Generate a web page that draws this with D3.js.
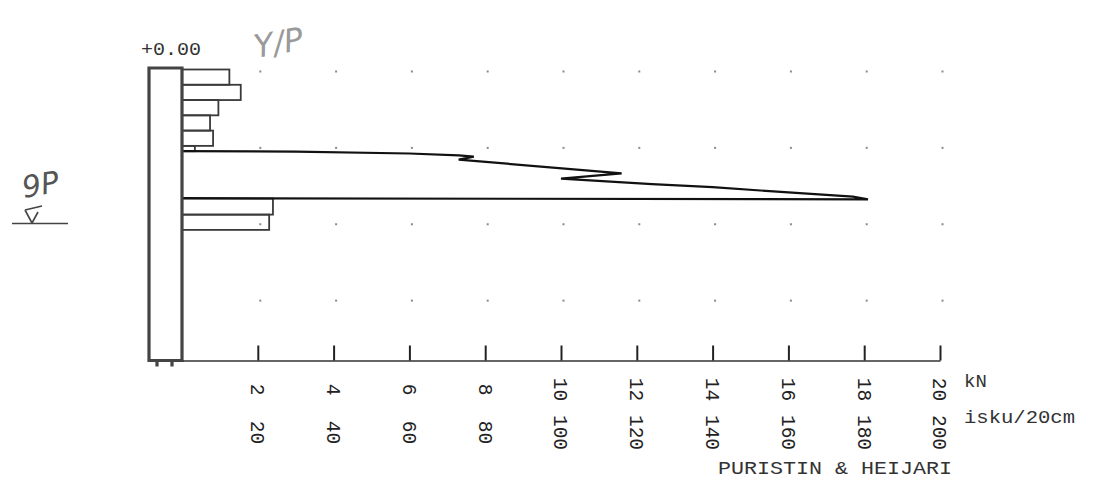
<!DOCTYPE html>
<html>
<head>
<meta charset="utf-8">
<script src="https://cdn.jsdelivr.net/npm/d3@7"></script>
<style>
  html, body { margin: 0; padding: 0; background: #fff; }
  svg { display: block; }
</style>
</head>
<body>
<svg id="chart" width="1096" height="495"></svg>
<script>
// ---------- data ----------
const kNTicks = [2, 4, 6, 8, 10, 12, 14, 16, 18, 20];
const iskuTicks = [20, 40, 60, 80, 100, 120, 140, 160, 180, 200];
const gridDepths = [0, 1, 2, 3];
const gridValues = [2, 4, 6, 8, 10, 12, 14, 16, 18, 20];

// puristin bars (kN) by depth interval (m)
const barTop    = [0.00, 0.20, 0.40, 0.60, 0.80, 1.00, 1.69, 1.90];
const barBottom = [0.20, 0.40, 0.60, 0.80, 1.00, 1.07, 1.90, 2.10];
const barKN     = [1.25, 1.55, 0.96, 0.74, 0.82, 0.34, 2.40, 2.30];

// heijari curve (isku/20cm) by depth (m)
const lineDepth = [1.07, 1.075, 1.10, 1.125, 1.14, 1.18, 1.36, 1.43, 1.50, 1.54, 1.61, 1.665, 1.70, 1.685];
const lineIsku  = [0,    30,    60,   73,    77,   73,   116,  100,  124,  140,  160,  177,   181,  0];

const levelLabel = "+0.00";
const unitKN = "kN";
const unitIsku = "isku/20cm";
const footer = "PURISTIN & HEIJARI";

// ---------- scales ----------
const svg = d3.select("#chart");
const x = d3.scaleLinear().domain([0, 20]).range([182, 940]);
const xi = d3.scaleLinear().domain([0, 200]).range([182, 940]);
const y = d3.scaleLinear().domain([0, 3.81]).range([69.5, 360.5]);
const axisY = y(3.81);
const mono = "'Liberation Mono', 'DejaVu Sans Mono', monospace";

// grid dots
const dots = [];
gridDepths.forEach(d => gridValues.forEach(v => dots.push({d, v})));
svg.append("g").selectAll("rect").data(dots).join("rect")
  .attr("x", p => x(p.v) + 1.5).attr("y", p => y(p.d) + 1)
  .attr("width", 2).attr("height", 2)
  .attr("fill", "#8a8a8a");

// bars
const bars = barKN.map((v, i) => ({v, t: barTop[i], b: barBottom[i]}));
svg.append("g").selectAll("rect").data(bars).join("rect")
  .attr("x", x(0)).attr("y", d => y(d.t))
  .attr("width", d => x(d.v) - x(0))
  .attr("height", d => y(d.b) - y(d.t))
  .attr("fill", "none").attr("stroke", "#3a3a3a").attr("stroke-width", 1.8);

// heijari polygon line
const pts = lineDepth.map((d, i) => [xi(lineIsku[i]), y(d)]);
svg.append("path")
  .attr("d", d3.line()(pts))
  .attr("fill", "none").attr("stroke", "#111").attr("stroke-width", 2.2)
  .attr("stroke-linejoin", "miter");

// column (rod frame)
const colL = x(0) - 33, colR = x(0);
svg.append("path")
  .attr("d", `M${colL},${axisY} L${colL},${y(0) - 1.5} L${colR},${y(0) - 1.5} L${colR},${axisY} Z`)
  .attr("fill", "none").attr("stroke", "#444").attr("stroke-width", 3.2);
svg.append("g").selectAll("line").data([colL + 8, colL + 23]).join("line")
  .attr("x1", d => d).attr("x2", d => d)
  .attr("y1", axisY).attr("y2", axisY + 6)
  .attr("stroke", "#444").attr("stroke-width", 3.2);

// kN axis (ticks upward)
const gAx = svg.append("g").attr("transform", `translate(0,${axisY})`)
  .call(d3.axisBottom(x).tickValues(kNTicks).tickSize(-15).tickSizeOuter(0).tickFormat(d3.format("d")));
gAx.select(".domain").attr("stroke", "#333").attr("stroke-width", 1.6);
gAx.selectAll(".tick line").attr("stroke", "#222").attr("stroke-width", 2);
gAx.selectAll(".tick text")
  .attr("x", 0).attr("y", 0).attr("dy", "0.36em")
  .attr("transform", "translate(0,29) rotate(90)")
  .attr("text-anchor", "middle")
  .attr("font-family", mono).attr("font-size", 19.5).attr("fill", "#222");

// isku labels
const gAx2 = svg.append("g").attr("transform", `translate(0,${axisY})`)
  .call(d3.axisBottom(xi).tickValues(iskuTicks).tickSize(0).tickFormat(d3.format("d")));
gAx2.select(".domain").remove();
gAx2.selectAll(".tick text")
  .attr("x", 0).attr("y", 0).attr("dy", "0.36em")
  .attr("transform", "translate(0,72) rotate(90)")
  .attr("text-anchor", "middle")
  .attr("font-family", mono).attr("font-size", 19.5).attr("fill", "#222");

// unit labels
svg.append("text").attr("x", 964).attr("y", 387).text(unitKN)
  .attr("font-family", mono).attr("font-size", 19).attr("fill", "#333");
svg.append("text").attr("x", 964).attr("y", 423).text(unitIsku)
  .attr("font-family", mono).attr("font-size", 19).attr("fill", "#333")
  .attr("textLength", 111).attr("lengthAdjust", "spacingAndGlyphs");
svg.append("text").attr("x", 718).attr("y", 474).text(footer)
  .attr("font-family", mono).attr("font-size", 18).attr("fill", "#333")
  .attr("textLength", 234).attr("lengthAdjust", "spacingAndGlyphs");
svg.append("text").attr("x", 141).attr("y", 55).text(levelLabel)
  .attr("font-family", mono).attr("font-size", 18.5).attr("fill", "#333")
  .attr("textLength", 60).attr("lengthAdjust", "spacingAndGlyphs");

// handwritten annotations
svg.append("text").attr("x", 256).attr("y", 58).text("Y/P")
  .attr("font-family", "'DejaVu Sans', sans-serif").attr("font-style", "italic")
  .attr("font-weight", 200)
  .attr("font-size", 32).attr("fill", "#9a9a9a")
  .attr("transform", "rotate(-10,256,58)");
svg.append("text").attr("x", 24).attr("y", 198).text("9P")
  .attr("font-family", "'DejaVu Sans', sans-serif").attr("font-style", "italic")
  .attr("font-weight", 200)
  .attr("font-size", 30).attr("fill", "#555")
  .attr("transform", "rotate(-10,24,198)");
svg.append("path")
  .attr("d", "M12,223.5 L68,223.5 M25,210 L42,206 M25,210 L32,223 M32,223 L38,212")
  .attr("fill", "none").attr("stroke", "#444").attr("stroke-width", 1.6);
</script>
</body>
</html>
